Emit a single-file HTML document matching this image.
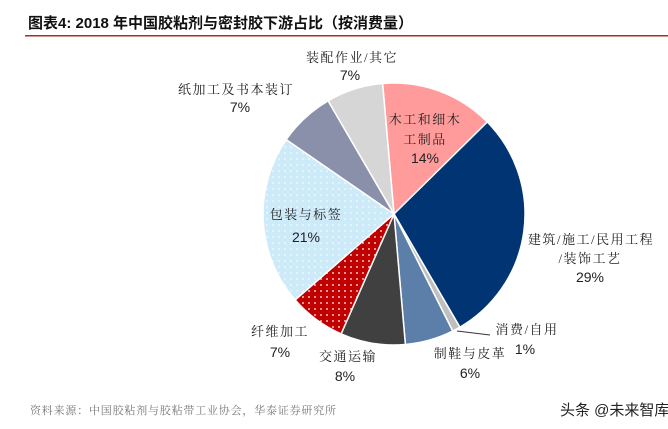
<!DOCTYPE html>
<html><head><meta charset="utf-8"><style>
html,body{margin:0;padding:0;background:#fff;}
svg{display:block;}
text{font-family:"Liberation Sans","Noto Sans CJK SC",sans-serif;}
.cn{font-family:"Liberation Serif","Noto Serif CJK SC",serif;letter-spacing:1.5px;}
</style></head><body>
<svg width="668" height="429" viewBox="0 0 668 429" xmlns="http://www.w3.org/2000/svg">
<defs>
<pattern id="dotsB" width="6" height="6" patternUnits="userSpaceOnUse"><rect width="6" height="6" fill="#cdeaf9"/><circle cx="3" cy="3" r="0.8" fill="#fff"/></pattern>
<pattern id="dotsR" width="6" height="6" patternUnits="userSpaceOnUse"><rect width="6" height="6" fill="#c00000"/><circle cx="3" cy="3" r="0.9" fill="#fff"/></pattern>
</defs>
<text x="28" y="28" font-size="15" font-weight="bold" fill="#111">图表4:   2018 年中国胶粘剂与密封胶下游占比（按消费量）</text>
<rect x="25" y="35" width="643" height="1.5" fill="#a0302a"/>
<g stroke="#fff" stroke-width="1.5">
<path d="M394,214 L382.6,83.5 A131,131 0 0 1 487.3,122.0 Z" fill="#ff9b9b"/>
<path d="M394,214 L487.3,122.0 A131,131 0 0 1 459.9,327.2 Z" fill="#003473"/>
<path d="M394,214 L459.9,327.2 A131,131 0 0 1 452.7,331.1 Z" fill="#bfbfbf"/>
<path d="M394,214 L452.7,331.1 A131,131 0 0 1 405.4,344.5 Z" fill="#5b7fa8"/>
<path d="M394,214 L405.4,344.5 A131,131 0 0 1 341.1,333.9 Z" fill="#404040"/>
<path d="M394,214 L341.1,333.9 A131,131 0 0 1 295.1,299.9 Z" fill="url(#dotsR)"/>
<path d="M394,214 L295.1,299.9 A131,131 0 0 1 286.2,139.6 Z" fill="url(#dotsB)"/>
<path d="M394,214 L286.2,139.6 A131,131 0 0 1 328.1,100.8 Z" fill="#8a90aa"/>
<path d="M394,214 L328.1,100.8 A131,131 0 0 1 382.6,83.5 Z" fill="#d6d6d6"/>
</g>
<line x1="457" y1="331" x2="490" y2="335" stroke="#333" stroke-width="1"/>
<g font-size="13" fill="#222" text-anchor="middle">
<text class="cn" x="352" y="62">装配作业/其它</text><text x="350" y="80" font-size="14">7%</text>
<text class="cn" x="236" y="94">纸加工及书本装订</text><text x="240" y="112" font-size="14">7%</text>
<text class="cn" x="425" y="124">木工和细木</text><text class="cn" x="425" y="144">工制品</text><text x="425" y="163" font-size="14">14%</text>
<text class="cn" x="591" y="244">建筑/施工/民用工程</text><text class="cn" x="590" y="263">/装饰工艺</text><text x="590" y="282" font-size="14">29%</text>
<text class="cn" x="306" y="219">包装与标签</text><text x="306" y="242" font-size="14">21%</text>
<text class="cn" x="280" y="336">纤维加工</text><text x="280" y="357" font-size="14">7%</text>
<text class="cn" x="348" y="361">交通运输</text><text x="345" y="381" font-size="14">8%</text>
<text class="cn" x="470" y="358">制鞋与皮革</text><text x="470" y="378" font-size="14">6%</text>
<text class="cn" x="527" y="334">消费/自用</text><text x="525" y="354" font-size="14">1%</text>
</g>
<text class="cn" x="30" y="414" font-size="11" fill="#777" style="letter-spacing:0.8px">资料来源：中国胶粘剂与胶粘带工业协会，华泰证券研究所</text>
<text x="560" y="415" font-size="15" fill="#222">头条 @未来智库</text>
</svg>
</body></html>
